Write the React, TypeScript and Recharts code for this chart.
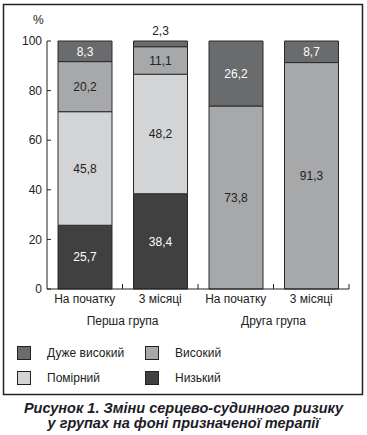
import { Bar, BarChart, LabelList, XAxis, YAxis } from 'recharts'

const categories = ['На початку', '3 місяці', 'На початку', '3 місяці']
const groups = ['Перша група', '', 'Друга група', '']
const lowValues = [25.7, 38.4, 0, 0]
const moderateValues = [45.8, 48.2, 0, 0]
const highValues = [20.2, 11.1, 73.8, 91.3]
const veryHighValues = [8.3, 2.3, 26.2, 8.7]
const yTicks = [0, 20, 40, 60, 80, 100]

const series = [
  { key: 'low', name: 'Низький', color: '#404040', text: '#ffffff' },
  { key: 'moderate', name: 'Помірний', color: '#d3d4d6', text: '#222222' },
  { key: 'high', name: 'Високий', color: '#a7a8aa', text: '#222222' },
  { key: 'veryHigh', name: 'Дуже високий', color: '#6a6b6d', text: '#ffffff' },
]

const legendOrder = [
  ['veryHigh', 'high'],
  ['moderate', 'low'],
]

const data = categories.map((name, i) => ({
  name,
  group: groups[i],
  low: lowValues[i],
  moderate: moderateValues[i],
  high: highValues[i],
  veryHigh: veryHighValues[i],
}))

const FONT = '"Liberation Sans Narrow", "Liberation Sans", Arial, sans-serif'

function SegmentLabel(props: any) {
  const { x, y, width, height, value, textColor } = props
  if (!value) return null
  const text = String(value).replace('.', ',')
  const small = height < 12
  return (
    <text
      x={x + width / 2}
      y={small ? y - 6 : y + height / 2}
      dy={small ? 0 : '0.36em'}
      textAnchor="middle"
      fontSize={12}
      fontFamily={FONT}
      fill={small ? '#222222' : textColor}
    >
      {text}
    </text>
  )
}

function CategoryTick(props: any) {
  const { x, y, payload, index } = props
  const half = payload?.offset || 37.75
  const group = groups[index]
  return (
    <g>
      <line x1={x + half} x2={x + half} y1={y} y2={y - 5} stroke="#222" strokeWidth={1} />
      <text x={x} y={y + 5} dy="0.71em" textAnchor="middle" fontSize={12} fontFamily={FONT} fill="#222">
        {payload.value}
      </text>
      {group && (
        <text x={x + half} y={y + 27} dy="0.71em" textAnchor="middle" fontSize={12} fontFamily={FONT} fill="#222">
          {group}
        </text>
      )}
    </g>
  )
}

export default function App() {
  return (
    <>
      <style>{'body { margin: 0; }'}</style>
      <div style={{ position: 'relative', width: 367, height: 435, background: '#fff', fontFamily: FONT }}>
        <svg width={367} height={435} style={{ position: 'absolute', left: 0, top: 0 }}>
          <rect x={3.5} y={4.5} width={359} height={390} fill="none" stroke="#222" strokeWidth={1.5} />
        </svg>
        <div style={{ position: 'absolute', left: 33, top: 13, fontSize: 12, color: '#222' }}>%</div>
        <div style={{ position: 'absolute', left: 0, top: 0 }}>
          <BarChart width={367} height={340} data={data} margin={{ top: 41, right: 18, left: 17, bottom: 1 }} barSize={54}>
            <XAxis
              dataKey="name"
              height={50}
              interval={0}
              tickLine={false}
              tickSize={0}
              tickMargin={0}
              axisLine={{ stroke: '#222', strokeWidth: 1 }}
              tick={<CategoryTick />}
            />
            <YAxis
              width={30}
              domain={[0, 100]}
              ticks={yTicks}
              tickSize={-4}
              tickMargin={9}
              tick={{ fill: '#222', fontSize: 12, fontFamily: FONT }}
              axisLine={{ stroke: '#222', strokeWidth: 1 }}
              tickLine={{ stroke: '#222', strokeWidth: 1 }}
            />
            {series.map((s) => (
              <Bar key={s.key} dataKey={s.key} name={s.name} stackId="a" fill={s.color} stroke="#2a2a2a" strokeWidth={1} isAnimationActive={false}>
                <LabelList dataKey={s.key} content={<SegmentLabel textColor={s.text} />} />
              </Bar>
            ))}
          </BarChart>
        </div>
        {legendOrder.map((row, r) =>
          row.map((key, c) => {
            const s = series.find((item) => item.key === key)!
            return (
              <div key={key} style={{ position: 'absolute', left: 17, marginLeft: c * 128, top: 346 + r * 25, display: 'flex', alignItems: 'center' }}>
                <div style={{ width: 12, height: 12, background: s.color, border: '1px solid #222' }} />
                <span style={{ marginLeft: 16, fontSize: 12, color: '#222' }}>{s.name}</span>
              </div>
            )
          })
        )}
        <div
          style={{
            position: 'absolute',
            left: 0,
            width: 367,
            top: 401,
            textAlign: 'center',
            fontFamily: '"Liberation Sans", Arial, sans-serif',
            fontWeight: 'bold',
            fontStyle: 'italic',
            fontSize: 14.5,
            lineHeight: '15px',
            color: '#1c1c28',
          }}
        >
          Рисунок 1. Зміни серцево-судинного ризику
          <br />
          у групах на фоні призначеної терапії
        </div>
      </div>
    </>
  )
}
